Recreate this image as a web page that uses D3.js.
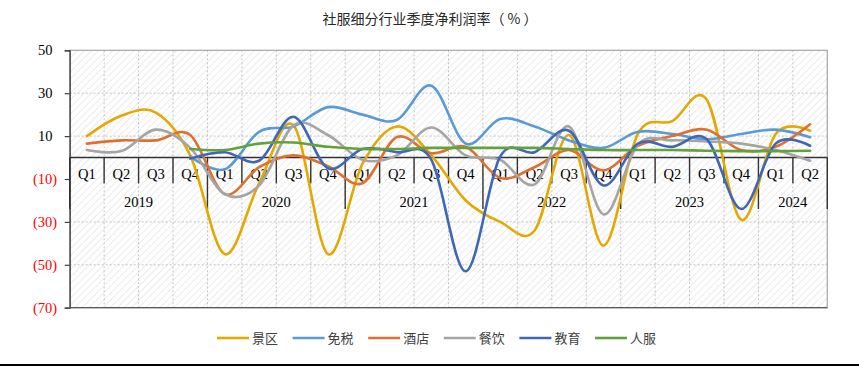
<!DOCTYPE html>
<html>
<head>
<meta charset="utf-8">
<script src="https://cdn.jsdelivr.net/npm/d3@7"></script>
<style>
  body { margin: 0; background: #fff; }
  svg { display: block; }
</style>
</head>
<body>
<script>
// data
var categories = ["2019Q1","2019Q2","2019Q3","2019Q4","2020Q1","2020Q2","2020Q3","2020Q4",
                  "2021Q1","2021Q2","2021Q3","2021Q4","2022Q1","2022Q2","2022Q3","2022Q4",
                  "2023Q1","2023Q2","2023Q3","2023Q4","2024Q1","2024Q2"];
var yTicks = [50, 30, 10, -10, -30, -50, -70];

var jingqu  = [10, 19.5, 21, 1, -45, -12, 15, -45, -3, 14.5, 1, -20, -30, -34, 10.5, -41, 11, 17, 27, -29, 11, 12.5];
var mianshui = [null, null, null, 0.5, -5.5, 12, 14.5, 23.5, 20, 17.5, 33.5, 6.5, 18, 14.5, 8, 4.5, 12, 11, 8.5, 11, 13, 9.5];
var jiudian = [6.5, 8, 8, 10.5, -17, -4.5, 1, -4, -12, 9.5, 2, 5, -9.5, -4.5, 3.5, -6, 5.5, 10, 13, 3.5, 5, 15.5];
var canyin  = [3.5, 3, 13, 4.5, -17, -13, 15, 10.5, -1, 1, 14, 1, -1, -12.5, 14.5, -26.5, 6, 8, 7.5, 6.5, 3.5, -1.5];
var jiaoyu  = [null, null, null, -0.5, 2.5, -1.5, 19, -5, 4, 2.5, -1, -53, 0.5, 2.5, 12.5, -13, 6.5, 5, 8.5, -24, 6.5, 5.5];
var renfu   = [null, null, null, 4, 3.5, 6.5, 7, 5, 4, 4, 4.5, 4.5, 4.5, 4.5, 4, 3.5, 3.5, 3.5, 3.2, 3, 3, 3.2];

var series = [
  {name: "景区", values: jingqu,  color: "#e5a800"},
  {name: "免税", values: mianshui, color: "#5b9bd5"},
  {name: "酒店", values: jiudian, color: "#e0702e"},
  {name: "餐饮", values: canyin,  color: "#a5a5a5"},
  {name: "教育", values: jiaoyu,  color: "#3f67b8"},
  {name: "人服", values: renfu,   color: "#62a23c"}
];

var W = 859, H = 369;
var plot = {left: 69.7, right: 827.3, top: 50.3, bottom: 307.7};

var svg = d3.select("body").append("svg")
    .attr("width", W)
    .attr("height", H);

// hatch pattern for plot background
var defs = svg.append("defs");
var pat = defs.append("pattern")
    .attr("id", "hatch")
    .attr("patternUnits", "userSpaceOnUse")
    .attr("width", 5)
    .attr("height", 5)
    .attr("patternTransform", "rotate(45)");
pat.append("rect").attr("width", 5).attr("height", 5).attr("fill", "#ffffff");
pat.append("line")
    .attr("x1", 0).attr("y1", 0).attr("x2", 0).attr("y2", 5)
    .attr("stroke", "#ebebeb")
    .attr("stroke-width", 2);

var x = d3.scaleBand()
    .domain(d3.range(categories.length))
    .range([plot.left, plot.right]);

var y = d3.scaleLinear()
    .domain([-70, 50])
    .range([plot.bottom, plot.top]);

// title
svg.append("text")
    .attr("x", 430)
    .attr("y", 24)
    .attr("text-anchor", "middle")
    .style("font-family", "'Noto Sans CJK SC', sans-serif")
    .style("font-size", "14px")
    .style("fill", "#262626")
    .text("社服细分行业季度净利润率（ % ）");

// plot background
svg.append("rect")
    .attr("x", plot.left)
    .attr("y", plot.top)
    .attr("width", plot.right - plot.left)
    .attr("height", plot.bottom - plot.top)
    .attr("fill", "url(#hatch)");

// dotted grid
svg.append("g").selectAll("line")
    .data(yTicks.filter(function(d) { return d !== -10 && d !== 50 && d !== -70; }))
    .enter().append("line")
    .attr("x1", plot.left).attr("x2", plot.right)
    .attr("y1", function(d) { return y(d); })
    .attr("y2", function(d) { return y(d); })
    .attr("stroke", "#c4c4c4")
    .attr("stroke-width", 1)
    .attr("stroke-dasharray", "2,2");

svg.append("g").selectAll("line")
    .data(d3.range(1, categories.length))
    .enter().append("line")
    .attr("x1", function(d) { return x(d); })
    .attr("x2", function(d) { return x(d); })
    .attr("y1", plot.top).attr("y2", plot.bottom)
    .attr("stroke", "#c4c4c4")
    .attr("stroke-width", 1)
    .attr("stroke-dasharray", "2,2");

// border (top / right)
svg.append("rect")
    .attr("x", plot.left)
    .attr("y", plot.top)
    .attr("width", plot.right - plot.left)
    .attr("height", plot.bottom - plot.top)
    .attr("fill", "none")
    .attr("stroke", "#a6a6a6")
    .attr("stroke-width", 1.2);

// y axis
var yAxis = svg.append("g")
    .attr("transform", "translate(" + plot.left + ",0)")
    .call(d3.axisLeft(y).tickValues(yTicks).tickSize(5).tickFormat(function(d) {
        return d < 0 ? "(" + (-d) + ")" : d;
    }));
yAxis.select(".domain").attr("stroke", "#404040").attr("stroke-width", 1.3);
yAxis.selectAll(".tick line").attr("stroke", "#404040").attr("stroke-width", 1.2);
yAxis.selectAll(".tick text")
    .attr("x", -12.5)
    .attr("dx", function(d) { return d < 0 ? 0 : -4.7; })
    .style("font-family", "'Liberation Serif', 'Times New Roman', serif")
    .style("font-size", "14.5px")
    .style("fill", function(d) { return d < 0 ? "#ff0000" : "#000"; });

svg.append("line")
    .attr("x1", plot.left).attr("x2", plot.right)
    .attr("y1", plot.bottom).attr("y2", plot.bottom)
    .attr("stroke", "#595959")
    .attr("stroke-width", 1.2);

// category axis at zero
var y0 = y(0);
var catAxis = svg.append("g").attr("class", "cat axis");

catAxis.append("line")
    .attr("x1", plot.left).attr("x2", plot.right)
    .attr("y1", y0).attr("y2", y0)
    .attr("stroke", "#333")
    .attr("stroke-width", 1.6);

catAxis.selectAll(".qsep")
    .data(d3.range(categories.length + 1))
    .enter().append("line")
    .attr("class", "qsep")
    .attr("x1", function(d) { return d < categories.length ? x(d) : plot.right; })
    .attr("x2", function(d) { return d < categories.length ? x(d) : plot.right; })
    .attr("y1", y0)
    .attr("y2", function(d) {
        var yearEdge = d === 0 || d === categories.length || categories[d].slice(4) === "Q1";
        return y0 + (yearEdge ? 51.5 : 25.8);
    })
    .attr("stroke", "#333")
    .attr("stroke-width", 1.4);

catAxis.selectAll(".qlabel")
    .data(categories)
    .enter().append("text")
    .attr("class", "qlabel")
    .attr("x", function(d, i) { return x(i) + x.bandwidth() / 2; })
    .attr("y", y0 + 21.5)
    .attr("text-anchor", "middle")
    .style("font-family", "'Liberation Serif', 'Times New Roman', serif")
    .style("font-size", "14.5px")
    .style("fill", "#000")
    .text(function(d) { return d.slice(4); });

var years = d3.groups(categories.map(function(d, i) { return {year: d.slice(0, 4), i: i}; }),
    function(d) { return d.year; });

catAxis.selectAll(".ylabel")
    .data(years)
    .enter().append("text")
    .attr("class", "ylabel")
    .attr("x", function(d) {
        var first = d[1][0].i, last = d[1][d[1].length - 1].i;
        return (x(first) + x(last) + x.bandwidth()) / 2;
    })
    .attr("y", y0 + 49)
    .attr("text-anchor", "middle")
    .style("font-family", "'Liberation Serif', 'Times New Roman', serif")
    .style("font-size", "14.5px")
    .style("fill", "#000")
    .text(function(d) { return d[0]; });

// lines
var line = d3.line()
    .defined(function(d) { return d !== null; })
    .x(function(d, i) { return x(i) + x.bandwidth() / 2; })
    .y(function(d) { return y(d); })
    .curve(d3.curveCardinal.tension(0));

svg.append("g").selectAll("path")
    .data(series)
    .enter().append("path")
    .attr("d", function(d) { return line(d.values); })
    .attr("fill", "none")
    .attr("stroke", function(d) { return d.color; })
    .attr("stroke-width", 2.6)
    .attr("stroke-linecap", "round");

// legend
var legend = svg.append("g").selectAll("g")
    .data(series)
    .enter().append("g")
    .attr("transform", function(d, i) { return "translate(" + (217 + i * 75.6) + ",338)"; });

legend.append("line")
    .attr("x1", 0).attr("x2", 32)
    .attr("stroke", function(d) { return d.color; })
    .attr("stroke-width", 2.6);

legend.append("text")
    .attr("x", 35)
    .attr("y", 4.5)
    .style("font-family", "'Noto Sans CJK SC', sans-serif")
    .style("font-size", "13px")
    .style("fill", "#404040")
    .text(function(d) { return d.name; });

// bottom rule
svg.append("line")
    .attr("x1", 0).attr("x2", W)
    .attr("y1", 365).attr("y2", 365)
    .attr("stroke", "#000")
    .attr("stroke-width", 2);
</script>
</body>
</html>
